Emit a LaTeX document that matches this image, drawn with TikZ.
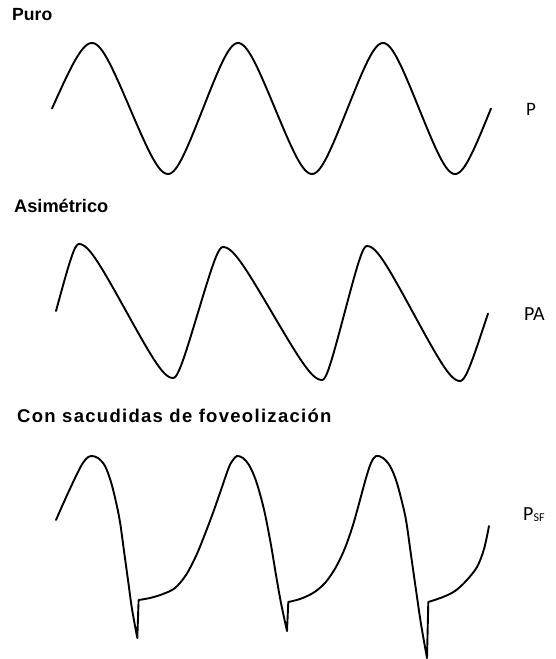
\documentclass[tikz,border=0pt]{standalone}
\usepackage{fontspec}
\setmainfont{Liberation Sans}
\newfontfamily\calib{Carlito}
\newfontfamily\arialsp[LetterSpace=7]{Liberation Sans}
\newcommand\wavea{0.9}
\newcommand\hw[6]{plot[domain=#5:#6,samples=50] ({#1+(#3-#1)*\x},{#2+(#4-#2)*(1+Sr(2*\x-1))/2})}
\newcommand\hwc[6]{-- plot[domain=#5:#6,samples=50] ({#1+(#3-#1)*\x},{#2+(#4-#2)*(1+Sr(2*\x-1))/2})}
\begin{document}
\begin{tikzpicture}[x=1pt,y=-1pt,
  declare function={Sr(\u)=asin(\wavea*sin(90*\u))/asin(\wavea);},
  wave/.style={line width=1.9pt,line join=round,line cap=round},
  lbl/.style={anchor=base west,inner sep=0pt}]
\useasboundingbox (0,0) rectangle (556,659);
% titles
\node[lbl] (puro) at (12,20) {\bfseries\fontsize{17.6}{21}\selectfont Puro};
\node[lbl] (asim) at (14,212) {\bfseries\fontsize{18.2}{22}\selectfont Asimétrico};
\node[lbl] (con) at (17,422) {\arialsp\bfseries\fontsize{18.5}{22}\selectfont Con sacudidas de foveolización};
% side labels
\node[lbl] (p) at (526,115) {\calib\fontsize{19}{23}\selectfont P};
\node[lbl] (pa) at (524,320) {\calib\fontsize{20}{24}\selectfont PA};
\node[lbl] (psf) at (523,520) {\calib\fontsize{20}{24}\selectfont P\raisebox{-1pt}{\fontsize{12}{14}\selectfont SF}};
% wave 1 : puro
\renewcommand\wavea{0.8}
\draw[wave] \hw{12}{174}{92}{43}{0.5}{1}
  \hwc{92}{43}{168}{174}{0}{1}
  \hwc{168}{174}{238}{43}{0}{1}
  \hwc{238}{43}{312}{174}{0}{1}
  \hwc{312}{174}{383}{43}{0}{1}
  \hwc{383}{43}{455}{174}{0}{1}
  \hwc{455}{174}{527}{43}{0}{0.5};
% wave 2 : asimetrico
\renewcommand\wavea{0.9}
\draw[wave] \hw{33}{378}{79}{244}{0.5}{1}
  \hwc{79}{244}{173}{378}{0}{1}
  \hwc{173}{378}{223}{247}{0}{1}
  \hwc{223}{247}{322}{380}{0}{1}
  \hwc{322}{380}{367}{246}{0}{1}
  \hwc{367}{246}{460}{381}{0}{1}
  \hwc{460}{381}{516}{246}{0}{0.5};
% wave 3 : con sacudidas de foveolizacion
\draw[wave] plot[smooth,tension=0.55] coordinates {(56,520) (68,493) (80,468) (86,459) (91,456) (98,458) (105,466) (111,482) (116,502) (120,522) (124,551) (128,580) (132,609) (137.3,638)}
  -- (138.6,600)
  -- plot[smooth,tension=0.55] coordinates {(138.6,600) (150,598) (163,594) (175,588) (186,575) (196,556) (205,534) (214,510) (222,487) (229,467) (233,460) (237,456) (243,458) (249,465) (255,478) (260,494) (265,514) (271,545) (276,575) (281,603) (287,631)}
  -- (288.3,602)
  -- plot[smooth,tension=0.55] coordinates {(288.3,602) (300,599) (313,593) (325,583) (336,567) (345,548) (353,525) (360,500) (366,478) (371,463) (376,456) (383,458) (390,466) (396,480) (401,498) (406,520) (411,555) (416,590) (421,624) (427,658)}
  -- (428.3,602)
  -- plot[smooth,tension=0.55] coordinates {(428.3,602) (443,597) (455,591) (466,581) (477,567) (484,549) (489,526)};
\end{tikzpicture}
\end{document}
